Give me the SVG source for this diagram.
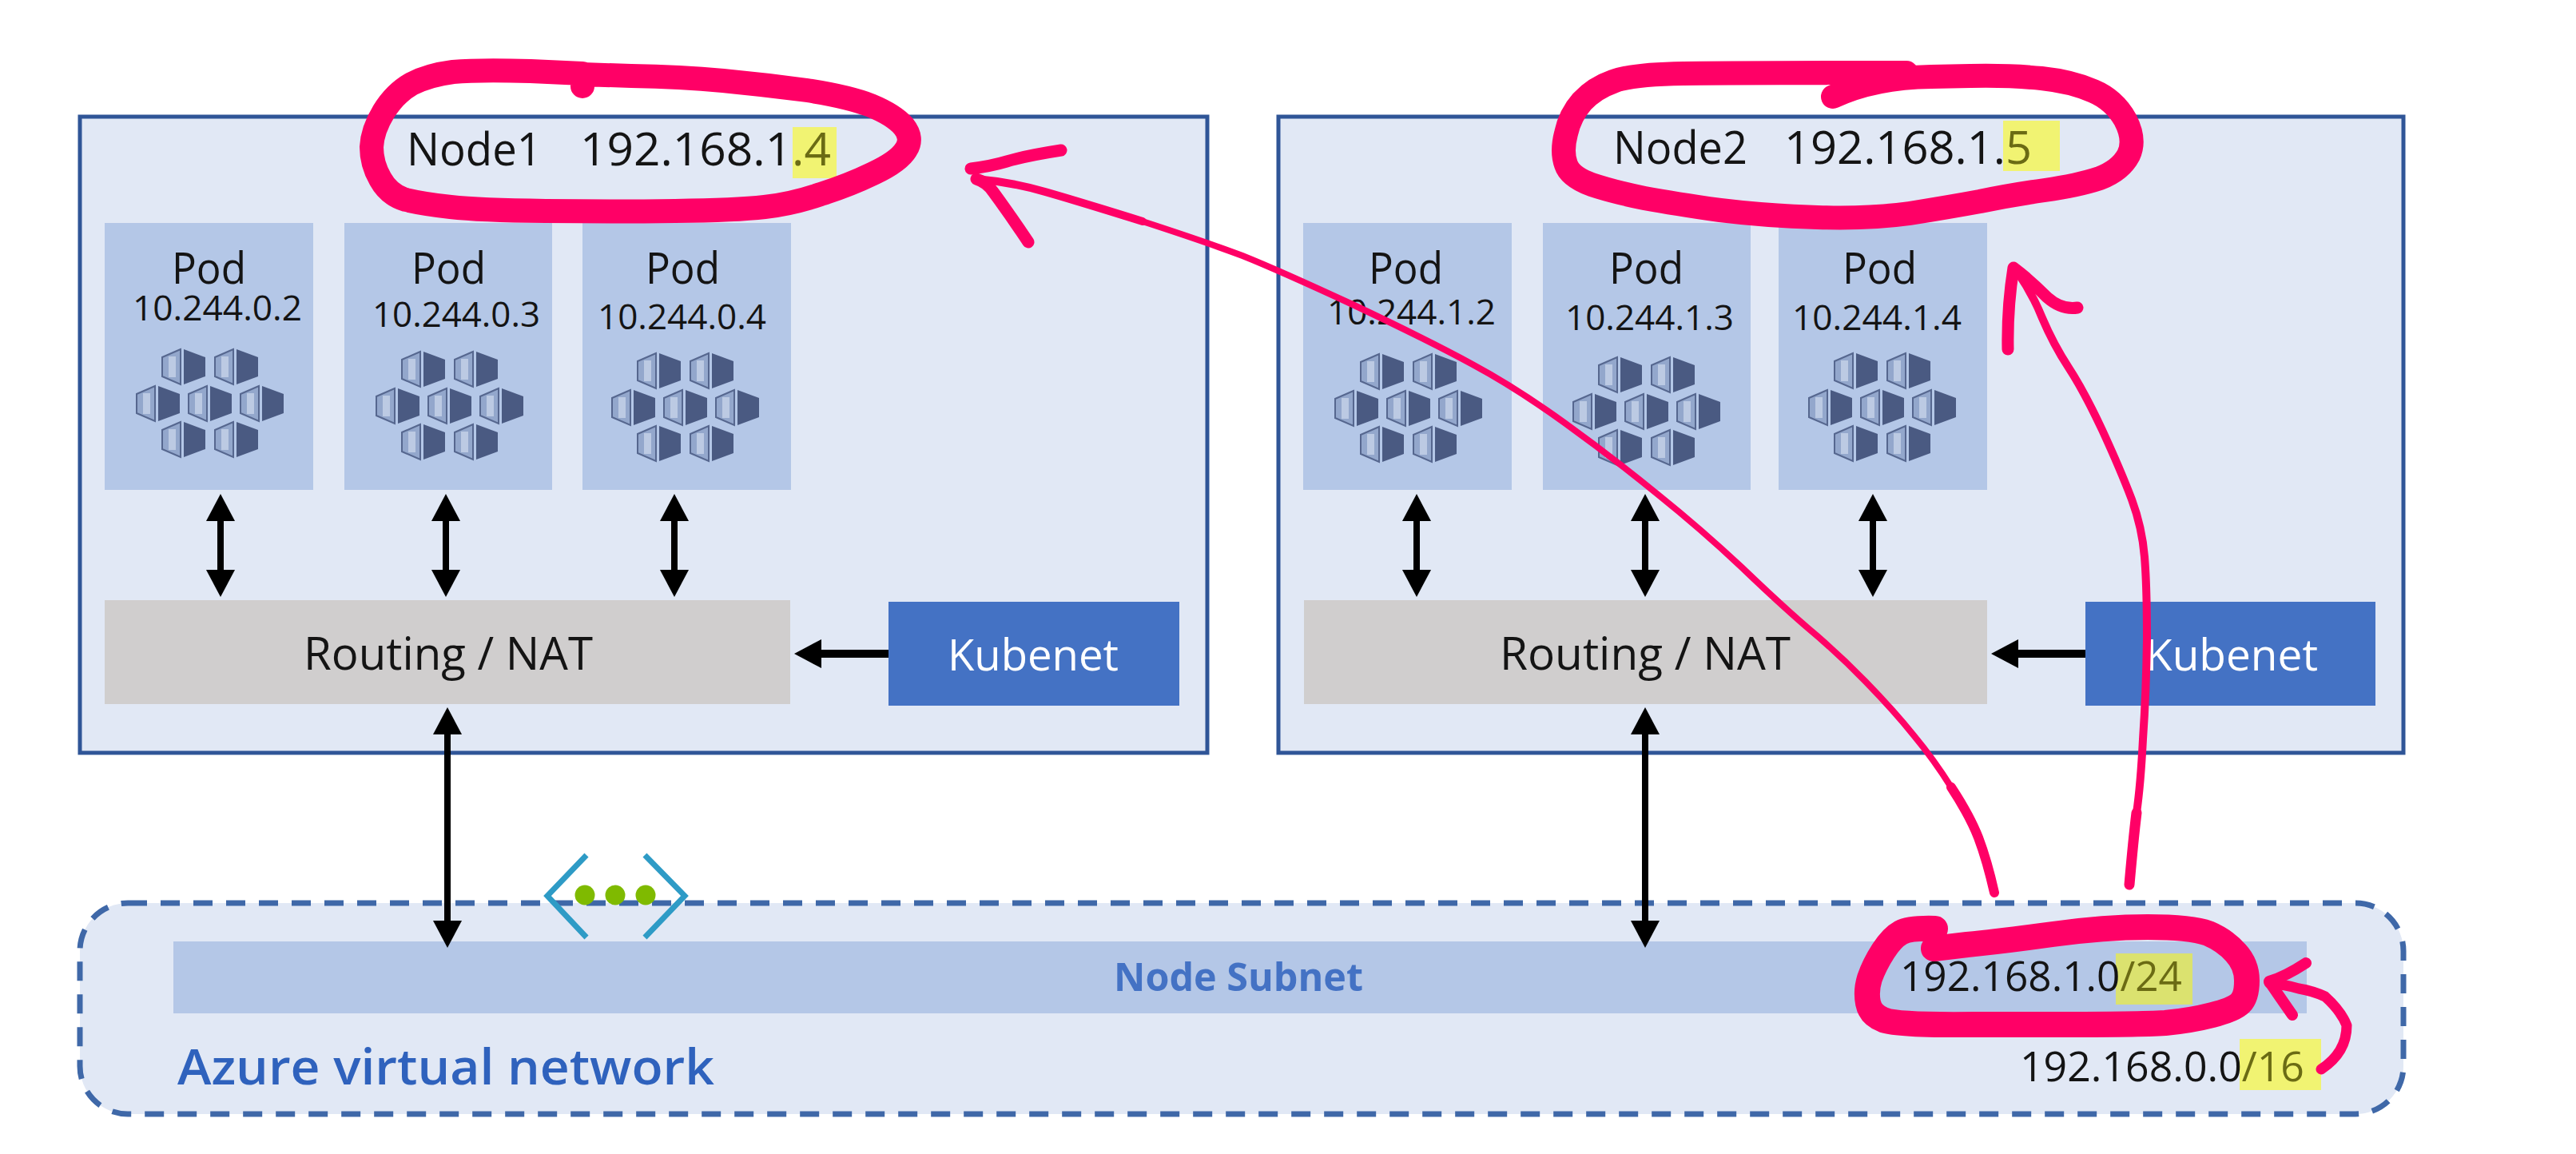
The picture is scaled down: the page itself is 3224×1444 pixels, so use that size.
<svg xmlns="http://www.w3.org/2000/svg" xmlns:xlink="http://www.w3.org/1999/xlink" width="3224" height="1444" viewBox="0 0 3224 1444">
<style>
text{font-family:"Open Sans","Noto Sans","Liberation Sans",sans-serif;fill:#141414}
.box{fill:#e1e8f5;stroke:#2f5597;stroke-width:5}
.pod{fill:#b4c7e7}
.route{fill:#d0cece}
.kube{fill:#4472c4}
.vnet{fill:#e1e8f5;stroke:#3f68a8;stroke-width:7;stroke-dasharray:24 17}
.title{font-size:56px}
.podn{font-size:54px}
.ip{font-size:44px}
.rt{font-size:56px}
.kt{font-size:54px;fill:#fff}
.cidr{font-size:52px}
.hl{fill:#f1f372}
.hl2{fill:#dbe26f}
.ol{fill:#6b6b14}
.sub{font-size:48px;font-weight:700;fill:#4472c4}
.az{font-size:62px;font-weight:600;fill:#2f62bd}
.conn{stroke:#000;fill:none;marker-start:url(#ah);marker-end:url(#ah)}
.conn1{stroke:#000;fill:none;marker-end:url(#ah)}
.pk{fill:none;stroke:#ff0066;stroke-linecap:round;stroke-linejoin:round}
.hv{stroke-width:30}
.md{stroke-width:15}
.ch{fill:none;stroke:#2e9bc6;stroke-width:7}
</style>
<defs>
<marker id="ah" viewBox="0 0 34 36" refX="2" refY="18" markerWidth="34" markerHeight="36" markerUnits="userSpaceOnUse" orient="auto-start-reverse"><path d="M0,0L34,18L0,36z" fill="#000"/></marker>
<g id="cell">
<path d="M-4,-22L-27,-12V12L-4,22z" fill="#93a7cc" stroke="#56678f" stroke-width="2"/>
<rect x="-19" y="-13" width="9" height="26" fill="#bccae3"/>
<path d="M0,-22L27,-12V12L0,22z" fill="#4a5a82"/>
</g>
<g id="cubes">
<use xlink:href="#cell" href="#cell" x="-33" y="-46"/>
<use xlink:href="#cell" href="#cell" x="33" y="-46"/>
<use xlink:href="#cell" href="#cell" x="-65" y="0"/>
<use xlink:href="#cell" href="#cell" x="0" y="0"/>
<use xlink:href="#cell" href="#cell" x="65" y="0"/>
<use xlink:href="#cell" href="#cell" x="-33" y="45"/>
<use xlink:href="#cell" href="#cell" x="33" y="45"/>
</g>
</defs>
<rect width="3224" height="1444" fill="#fff"/>

<g id="node1">
<rect class="box" x="100" y="146" width="1411" height="796"/>
<text class="title" x="509" y="207" textLength="169" lengthAdjust="spacingAndGlyphs">Node1</text>
<rect class="hl" x="992" y="159" width="55" height="64"/>
<text class="title" x="726" y="207" textLength="314" lengthAdjust="spacingAndGlyphs">192.168.1<tspan class="ol">.4</tspan></text>
</g>
<g id="node1-pod1">
<rect class="pod" x="131" y="279" width="261" height="334"/>
<text class="podn" x="215" y="355" textLength="93" lengthAdjust="spacingAndGlyphs">Pod</text>
<text class="ip" x="166" y="401" textLength="212" lengthAdjust="spacingAndGlyphs">10.244.0.2</text>
<use xlink:href="#cubes" href="#cubes" x="263" y="505"/>
</g>
<g id="node1-pod2">
<rect class="pod" x="431" y="279" width="260" height="334"/>
<text class="podn" x="515" y="355" textLength="93" lengthAdjust="spacingAndGlyphs">Pod</text>
<text class="ip" x="466" y="409" textLength="210" lengthAdjust="spacingAndGlyphs">10.244.0.3</text>
<use xlink:href="#cubes" href="#cubes" x="563" y="508"/>
</g>
<g id="node1-pod3">
<rect class="pod" x="729" y="279" width="261" height="334"/>
<text class="podn" x="808" y="355" textLength="93" lengthAdjust="spacingAndGlyphs">Pod</text>
<text class="ip" x="748" y="412" textLength="211" lengthAdjust="spacingAndGlyphs">10.244.0.4</text>
<use xlink:href="#cubes" href="#cubes" x="858" y="510"/>
</g>
<g id="node1-routing">
<rect class="route" x="131" y="751" width="858" height="130"/>
<text class="rt" x="380" y="838" textLength="362" lengthAdjust="spacingAndGlyphs">Routing / NAT</text>
</g>
<g id="node1-kubenet">
<rect class="kube" x="1112" y="753" width="364" height="130"/>
<text class="kt" x="1186" y="839" textLength="214" lengthAdjust="spacingAndGlyphs">Kubenet</text>
</g>

<g id="node2">
<rect class="box" x="1600" y="146" width="1408" height="796"/>
<text class="title" x="2019" y="205" textLength="168" lengthAdjust="spacingAndGlyphs">Node2</text>
<rect class="hl" x="2507" y="151" width="71" height="63"/>
<text class="title" x="2233" y="205" textLength="310" lengthAdjust="spacingAndGlyphs">192.168.1.<tspan class="ol">5</tspan></text>
</g>
<g id="node2-pod1">
<rect class="pod" x="1631" y="279" width="261" height="334"/>
<text class="podn" x="1713" y="355" textLength="93" lengthAdjust="spacingAndGlyphs">Pod</text>
<text class="ip" x="1661" y="406" textLength="211" lengthAdjust="spacingAndGlyphs">10.244.1.2</text>
<use xlink:href="#cubes" href="#cubes" x="1763" y="511"/>
</g>
<g id="node2-pod2">
<rect class="pod" x="1931" y="279" width="260" height="334"/>
<text class="podn" x="2014" y="355" textLength="93" lengthAdjust="spacingAndGlyphs">Pod</text>
<text class="ip" x="1959" y="413" textLength="211" lengthAdjust="spacingAndGlyphs">10.244.1.3</text>
<use xlink:href="#cubes" href="#cubes" x="2061" y="515"/>
</g>
<g id="node2-pod3">
<rect class="pod" x="2226" y="279" width="261" height="334"/>
<text class="podn" x="2306" y="355" textLength="93" lengthAdjust="spacingAndGlyphs">Pod</text>
<text class="ip" x="2243" y="413" textLength="212" lengthAdjust="spacingAndGlyphs">10.244.1.4</text>
<use xlink:href="#cubes" href="#cubes" x="2356" y="510"/>
</g>
<g id="node2-routing">
<rect class="route" x="1632" y="751" width="855" height="130"/>
<text class="rt" x="1877" y="838" textLength="364" lengthAdjust="spacingAndGlyphs">Routing / NAT</text>
</g>
<g id="node2-kubenet">
<rect class="kube" x="2610" y="753" width="363" height="130"/>
<text class="kt" x="2685" y="839" textLength="216" lengthAdjust="spacingAndGlyphs">Kubenet</text>
</g>

<g id="vnet">
<rect class="vnet" x="100" y="1130" width="2908" height="264" rx="60" ry="60"/>
<rect class="pod" x="217" y="1178" width="2670" height="90"/>
<text class="sub" x="1394" y="1240" textLength="312" lengthAdjust="spacingAndGlyphs">Node Subnet</text>
<text class="az" x="222" y="1357" textLength="672" lengthAdjust="spacingAndGlyphs">Azure virtual network</text>
<rect class="hl2" x="2648" y="1193" width="96" height="64"/>
<text class="cidr" x="2378" y="1240" textLength="353" lengthAdjust="spacingAndGlyphs">192.168.1.0<tspan class="ol">/24</tspan></text>
<rect class="hl" x="2803" y="1300" width="102" height="64"/>
<text class="cidr" x="2528" y="1353" textLength="356" lengthAdjust="spacingAndGlyphs">192.168.0.0<tspan class="ol">/16</tspan></text>
</g>
<g id="vnet-icon">
<path class="ch" d="M734,1070L685,1121L734,1173"/>
<path class="ch" d="M807,1070L857,1121L807,1173"/>
<circle cx="732" cy="1120" r="12.5" fill="#7fba00"/>
<circle cx="770" cy="1120" r="12.5" fill="#7fba00"/>
<circle cx="808" cy="1120" r="12.5" fill="#7fba00"/>
</g>

<g id="connectors" stroke-width="8">
<line class="conn" x1="276" y1="650" x2="276" y2="715"/>
<line class="conn" x1="558" y1="650" x2="558" y2="715"/>
<line class="conn" x1="844" y1="650" x2="844" y2="715"/>
<line class="conn" x1="1773" y1="650" x2="1773" y2="715"/>
<line class="conn" x1="2059" y1="650" x2="2059" y2="715"/>
<line class="conn" x1="2344" y1="650" x2="2344" y2="715"/>
<line class="conn" x1="560" y1="917" x2="560" y2="1154"/>
<line class="conn" x1="2059" y1="917" x2="2059" y2="1154"/>
<line class="conn1" x1="1112" y1="818" x2="1026" y2="818" stroke-width="10"/>
<line class="conn1" x1="2610" y1="818" x2="2524" y2="818" stroke-width="10"/>
</g>

<g id="annotations">
<path class="pk hv" d="M729,92L664,89Q599,87 567,90Q536,94 515,105Q494,117 480,140Q466,163 465,184Q465,205 476,224Q487,244 508,250Q529,255 564,259Q599,263 683,264Q768,265 845,264Q922,263 957,259Q992,255 1027,243Q1062,232 1093,217Q1125,202 1134,187Q1143,173 1131,158Q1119,144 1090,132Q1062,121 1010,113Q957,106 905,101Q852,96 790,95L729,93L729,108"/>
<path class="pk hv" d="M2294,121Q2345,97 2417,96L2466,95Q2516,94 2555,98Q2593,102 2620,114Q2646,125 2660,150Q2673,175 2664,194Q2654,213 2628,223Q2601,232 2559,238Q2516,244 2478,252Q2440,259 2390,267Q2340,274 2275,272Q2210,270 2153,263Q2096,255 2058,248Q2019,240 1992,231Q1965,221 1960,206Q1954,190 1960,167Q1965,144 1980,127Q1996,110 2019,102Q2042,93 2107,92Q2172,91 2386,91"/>
<path class="pk hv" stroke-width="32" style="stroke-width:32" d="M2420,1187L2462,1182Q2504,1178 2569,1169Q2634,1160 2688,1160Q2742,1160 2764,1168Q2785,1177 2798,1192Q2812,1207 2812,1227Q2812,1247 2804,1255Q2796,1263 2769,1270Q2742,1277 2710,1280Q2677,1282 2574,1282L2471,1282Q2373,1283 2357,1276Q2341,1270 2338,1255Q2335,1240 2340,1224Q2346,1207 2357,1190Q2368,1173 2379,1167Q2390,1161 2422,1162"/>
<path class="pk" stroke-width="13" d="M2905,1338Q2937,1317 2937,1283Q2930,1265 2910,1247Q2895,1240 2877,1237Q2860,1232 2840,1230"/>
<path class="pk" stroke-width="14" d="M2886,1205Q2860,1222 2840,1228Q2855,1250 2869,1270"/>
<path class="pk" stroke-width="8" d="M1222,224Q1267,228 1308,240Q1350,252 1430,277Q1510,303 1555,320Q1600,338 1695,382Q1790,427 1843,456Q1897,485 1958,529Q2019,573 2074,618Q2130,663 2180,710Q2229,757 2264,787Q2300,817 2335,853Q2371,890 2395,920Q2420,950 2442,985Q2465,1020 2476,1048Q2487,1077 2496,1117"/>
<path class="pk" stroke-width="10" d="M1222,224Q1267,228 1308,240Q1350,252 1430,277"/>
<path class="pk" stroke-width="12" d="M2442,985Q2465,1020 2476,1048Q2487,1077 2496,1117"/>
<path class="pk md" d="M1328,188Q1283,195 1260,202Q1240,208 1215,211"/>
<path class="pk md" d="M1222,224Q1235,228 1243,240Q1265,270 1287,303"/>
<path class="pk" stroke-width="10" d="M2524,339Q2543,366 2556,398Q2570,431 2589,460Q2608,489 2631,538Q2654,588 2668,625Q2681,660 2684,697Q2687,733 2687,800Q2686,867 2682,925Q2679,983 2674,1017Q2670,1050 2665,1107"/>
<path class="pk" stroke-width="13" d="M2674,1017Q2670,1050 2665,1107"/>
<path class="pk md" d="M2513,437Q2512,385 2520,335Q2540,350 2562,372Q2580,388 2600,385"/>
</g>
</svg>
